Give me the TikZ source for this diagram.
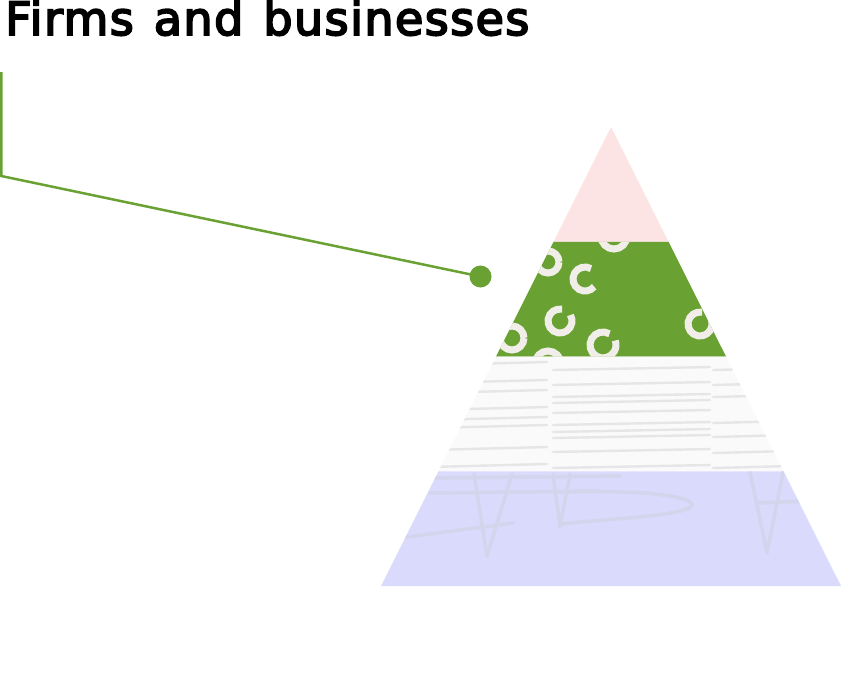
\documentclass[tikz,border=0pt]{standalone}
\usepackage{fontspec}
\usetikzlibrary{calc}
\newfontfamily\titlefont[FakeBold=4, LetterSpace=3.2]{DejaVu Sans}
\definecolor{pyrpink}{RGB}{252,228,228}
\definecolor{pyrgreen}{RGB}{105,162,51}
\definecolor{pyrwhite}{RGB}{250,250,250}
\definecolor{pyrblue}{RGB}{218,218,252}
\definecolor{ringwhite}{RGB}{241,238,233}
\definecolor{stripegrey}{RGB}{230,230,230}
\definecolor{sketchgrey}{RGB}{212,212,236}
\tikzset{
  ring/.style={ringwhite, line width=7pt},
  stripe/.style={stripegrey, line width=2.4pt, line cap=round},
  sketch/.style={sketchgrey, line width=3.5pt, line cap=round, line join=round},
  leader/.style={pyrgreen, line width=2.5pt}
}

\begin{document}
\begin{tikzpicture}[x=1pt,y=-1pt]
    \useasboundingbox (0,0) rectangle (842,680);
    % pyramid layers
    \coordinate (apex)  at (611,127);
    \coordinate (baseL) at (381,586);
    \coordinate (baseR) at (841,586);
    \foreach \t/\u/\col in {0/0.25/pyrpink,0.25/0.5/pyrgreen,0.5/0.75/pyrwhite,0.75/1/pyrblue}
      \fill[\col] ($(apex)!\t!(baseL)$) -- ($(apex)!\u!(baseL)$) -- ($(apex)!\u!(baseR)$) -- ($(apex)!\t!(baseR)$) -- cycle;

    % green layer: rings
    \begin{scope}
      \clip ($(apex)!0.25!(baseL)$) -- ($(apex)!0.5!(baseL)$) -- ($(apex)!0.5!(baseR)$) -- ($(apex)!0.25!(baseR)$) -- cycle;
      \foreach \x/\y/\r/\s/\e in {614/236/13/0/360, 585/279/12/-60/-320, 560/321/12/-80/-390,
                                  603/345/13/-60/-380, 700/324/12/-80/-380, 512/338/12/0/360,
                                  548/364/13/0/360, 548/262/11/0/360}
        \draw[ring] (\x,\y) ++(\s:\r) arc[start angle=\s, end angle=\e, radius=\r];
    \end{scope}

    % white layer: strokes
    \begin{scope}
      \clip ($(apex)!0.5!(baseL)$) -- ($(apex)!0.75!(baseL)$) -- ($(apex)!0.75!(baseR)$) -- ($(apex)!0.5!(baseR)$) -- cycle;
      \foreach \y in {365,383,393,410,420,428,450,467}
        \draw[stripe] (430,\y) -- (547,\y-3);
      \foreach \y in {370,385,397,403,413,425,432,438,452,468}
        \draw[stripe] (553,\y) -- (710,\y-3);
      \foreach \y in {370,385,397,423,437,453,468}
        \draw[stripe] (713,\y) -- (790,\y-2);
    \end{scope}

    % blue layer: sketch
    \begin{scope}
      \clip ($(apex)!0.75!(baseL)$) -- (baseL) -- (baseR) -- ($(apex)!0.75!(baseR)$) -- cycle;
      \draw[sketch] (430,478) -- (620,476);
      \draw[sketch] (430,493) -- (600,491);
      \draw[sketch] (560,492) .. controls (640,490) and (690,495) .. (692,505) .. controls (690,515) and (620,518) .. (560,524);
      \draw[sketch] (474,474) -- (487,556) -- (512,474);
      \draw[sketch] (553,474) -- (560,527) -- (570,474);
      \draw[sketch] (750,472) -- (767,553) -- (783,472);
      \draw[sketch] (757,503) -- (807,501);
      \draw[sketch] (407,537) -- (513,523);
    \end{scope}

    % title and leader
    \node[anchor=base west, inner sep=0pt, font=\titlefont\fontsize{46}{50}\selectfont] (title) at (5,35)
      {\spaceskip=20pt Firms and businesses};
    \coordinate (leaderTop)  at (1.25,72);
    \coordinate (leaderBend) at (1.25,176);
    \node[circle, fill=pyrgreen, inner sep=0pt, minimum size=22pt] (dot) at (480.5,276.5) {};
    \draw[leader] (leaderTop) -- (leaderBend) -- (dot.center);
\end{tikzpicture}
\end{document}
